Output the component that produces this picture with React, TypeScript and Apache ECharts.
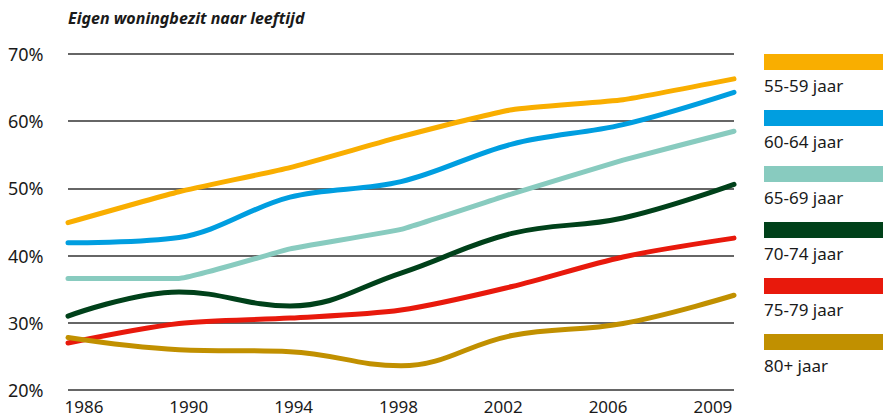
import React, { useEffect, useRef } from "react";
import * as echarts from "echarts";

const years = ["1986", "1990", "1994", "1998", "2002", "2006", "2009"];
const names = ["55-59 jaar", "60-64 jaar", "65-69 jaar", "70-74 jaar", "75-79 jaar", "80+ jaar"];
const colors = ["#F9AE00", "#009EE0", "#88CBBF", "#00411A", "#E8190C", "#C19000"];

const s5559 = [44.9, 49.5, 53.1, 57.7, 61.7, 63.2, 66.3];
const s6064 = [41.9, 42.7, 48.7, 51.0, 56.6, 59.5, 64.3];
const s6569 = [36.6, 36.6, 41.0, 43.9, 49.2, 54.2, 58.5];
const s7074 = [31.0, 34.6, 32.5, 37.4, 43.3, 45.6, 50.6];
const s7579 = [27.0, 29.9, 30.7, 31.9, 35.4, 39.8, 42.6];
const s80 = [27.8, 26.0, 25.7, 23.6, 28.1, 29.9, 34.1];

const seriesData = [s5559, s6064, s6569, s7074, s7579, s80];
const smoothness = [0.15, 0.35, 0.1, 0.4, 0.3, 0.4];

const FONT = "'Noto Sans', sans-serif";

export default function App() {
  const ref = useRef<HTMLDivElement>(null);
  useEffect(() => {
    if (!ref.current) return;
    const chart = echarts.init(ref.current, undefined, { renderer: "svg" });
    const graphic: any[] = [
      {
        type: "text",
        left: 68,
        top: 10,
        style: {
          text: "Eigen woningbezit naar leeftijd",
          font: `italic bold 16px ${FONT}`,
          fill: "#1a1a1a",
        },
      },
    ];
    names.forEach((n, i) => {
      graphic.push({
        type: "rect",
        shape: { x: 764, y: 54 + 56 * i, width: 119, height: 16 },
        style: { fill: colors[i] },
      });
      graphic.push({
        type: "text",
        x: 764,
        y: 54 + 56 * i + 31,
        style: {
          text: n,
          font: `17px ${FONT}`,
          fill: "#1a1a1a",
          verticalAlign: "middle",
          align: "left",
        },
      });
    });
    chart.setOption({
      animation: false,
      textStyle: { fontFamily: FONT },
      grid: [
        { left: 68, top: 54, width: 666, height: 336, containLabel: false },
        { left: 31.6, top: 54, width: 733.7, height: 336, containLabel: false },
      ],
      xAxis: [
        {
          type: "category",
          gridIndex: 0,
          data: years,
          boundaryGap: false,
          axisLine: { show: false },
          axisTick: { show: false },
          axisLabel: { show: false },
          splitLine: { show: false },
        },
        {
          type: "category",
          gridIndex: 1,
          data: years,
          boundaryGap: true,
          axisLine: { show: false },
          axisTick: { show: false },
          axisLabel: { fontSize: 17, lineHeight: 15, color: "#1a1a1a", margin: 9, fontFamily: FONT },
          splitLine: { show: false },
        },
      ],
      yAxis: [
        {
          type: "value",
          gridIndex: 0,
          min: 20,
          max: 70,
          interval: 10,
          axisLine: { show: false },
          axisTick: { show: false },
          axisLabel: {
            formatter: "{value}%",
            fontSize: 18,
            color: "#1a1a1a",
            align: "left",
            margin: 60,
            padding: [0, 0, 8, 0],
            fontFamily: FONT,
          },
          splitLine: { show: true, lineStyle: { color: "#333333", width: 1.5 } },
        },
        {
          type: "value",
          gridIndex: 1,
          min: 20,
          max: 70,
          show: false,
          splitLine: { show: false },
        },
      ],
      graphic,
      series: names.map((n, i) => ({
        name: n,
        type: "line",
        xAxisIndex: 0,
        yAxisIndex: 0,
        data: seriesData[i],
        smooth: smoothness[i],
        symbol: "none",
        lineStyle: { color: colors[i], width: 5, cap: "round", join: "round" },
        itemStyle: { color: colors[i] },
      })),
    });
    return () => chart.dispose();
  }, []);
  return <div ref={ref} style={{ width: 883, height: 418, position: "absolute", left: 0, top: 0 }} />;
}
